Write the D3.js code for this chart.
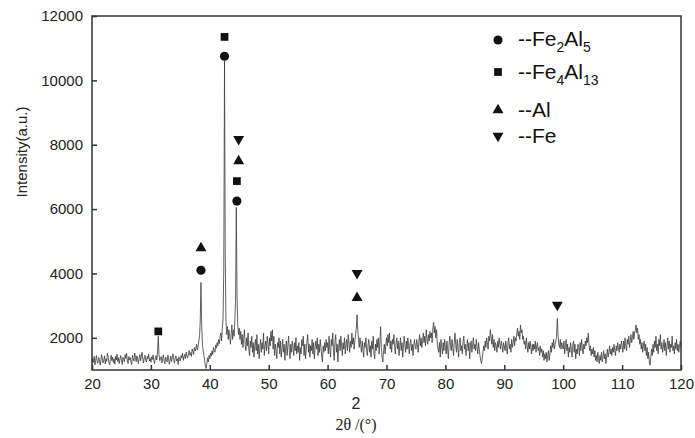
<!DOCTYPE html>
<html><head><meta charset="utf-8">
<script src="https://cdn.jsdelivr.net/npm/d3@7"></script>
<style>body{margin:0;background:#fff}svg{display:block}</style>
</head><body>
<svg id="c" width="695" height="438"></svg>
<script>
// ---- data ----
const angleStart = 20;      // 2θ of first sample
const angleStep = 0.125;    // sampling step (°)
const intensity = [
// 20-25
1180,1350,1240,1420,1160,1300,1450,1270,1210,1390,
1330,1150,1280,1480,1360,1220,1310,1440,1190,1350,
1270,1520,1380,1240,1160,1330,1460,1290,1400,1230,
1350,1180,1420,1310,1490,1260,1380,1200,1340,1450,
// 25-30
1290,1170,1400,1330,1250,1480,1360,1520,1280,1200,
1420,1310,1380,1240,1170,1460,1350,1280,1530,1390,
1260,1440,1320,1200,1370,1480,1290,1410,1550,1330,
1220,1380,1460,1300,1250,1420,1350,1490,1280,1360,
// 30-35
1240,1410,1330,1470,1290,1200,1380,1450,1310,1560,
2050,1480,1290,1360,1420,1220,1350,1470,1280,1190,
1400,1330,1250,1460,1370,1180,1300,1430,1260,1390,
1500,1320,1210,1370,1440,1280,1350,1170,1410,1320,
// 35-40
1280,1450,1370,1520,1300,1410,1490,1350,1560,1430,
1380,1500,1610,1460,1540,1420,1650,1570,1480,1700,
1590,1660,1800,1620,1720,1900,2000,2500,3720,2400,
1800,1600,1450,1300,1100,1050,1200,1380,1250,1450,
// 40-45
1350,1520,1430,1600,1480,1700,1620,1550,1780,1680,
1850,1750,1950,1820,2050,2150,1900,2300,2600,4200,
10600,4500,2500,2100,2350,1950,2250,2050,1800,2100,
2400,1950,2250,2050,2500,3200,6050,3300,2400,2100,
// 45-50
2300,1950,2200,1800,2100,1700,1950,2250,1800,1600,
2000,1750,2150,1650,1450,1900,1700,2050,1550,1850,
1400,1750,1950,1600,2100,1500,1800,1350,1700,1950,
1550,1850,1650,2150,1450,1750,1900,1600,2050,1800,
// 50-55
1500,2000,1750,2200,1900,2250,1650,2050,1450,1800,
1600,1350,1850,1700,2000,1500,1900,1400,1650,1950,
1550,1800,1300,1700,1900,1450,1750,2050,1600,1350,
1800,1550,1900,1700,1450,1850,1600,2000,1500,1750,
// 55-60
1550,1850,1300,1700,1500,1950,1750,2050,1450,1800,
1350,1650,1900,2100,1550,1800,1400,1750,1600,1950,
1500,1850,1350,1700,1900,1650,2000,1450,1800,1550,
1950,1700,1400,1250,1750,1550,1850,1600,1950,1700,
// 60-65
1850,1500,2050,1650,1400,1950,1750,2150,1600,1300,
1900,2100,1550,1800,1250,1700,1950,1600,2050,1750,
1450,1850,1650,2000,1500,1800,1950,1600,2100,1850,
1550,1900,1700,2150,1800,2000,1650,1900,2100,2300,
// 65-70
2720,2250,1950,1700,2000,1800,1550,1900,1650,1400,
1850,1700,2000,1600,1450,1800,1950,1550,1750,1400,
1900,1650,2050,1500,1350,1800,1600,1950,1700,2000,
1500,1850,2350,1700,1400,1250,1600,1800,1500,1750,
// 70-75
2000,1750,2100,1850,2150,1650,1900,1550,1950,1800,
2100,1700,1500,1850,2000,1650,1900,1450,1750,2000,
1600,1850,1400,1700,2050,1800,1550,1900,1650,2000,
1750,1500,1850,1950,1600,1800,1450,1750,1950,1700,
// 75-80
1650,1950,1800,1550,1900,2100,1750,2000,1700,1900,
2150,1850,2050,1750,2250,1950,1800,2100,1900,2200,
2000,2150,1850,2300,2480,2150,2350,2000,2250,1800,
1650,1550,1850,1400,1950,1700,1500,1850,1600,1950,
// 80-85
1700,1500,1900,1650,1350,1800,2050,1750,1600,1950,
1700,1450,1850,2150,1800,1550,1950,1700,1400,1850,
2000,1600,1750,1500,1900,2050,1650,1800,1450,1700,
1950,1600,1850,1350,1750,1900,1550,1800,2000,1650,
// 85-90
1800,1600,1950,1700,1500,1850,1650,1450,1300,1200,
1350,1550,1750,1600,1900,1700,2000,1850,1650,2050,
1900,2250,2050,1800,2100,1700,1950,1600,1850,1750,
1550,1900,1700,2000,1800,1650,1900,1750,1550,1850,
// 90-95
1750,1600,1900,1700,1500,1850,2000,1650,1800,1550,
1950,1700,1850,2050,1750,2000,1900,2150,2300,2050,
2200,1950,2400,2150,2250,1950,2050,1800,1900,1650,
2000,1750,1550,1850,1650,1900,1700,1500,1800,1600,
// 95-100
1800,1650,1900,1550,1750,1850,1600,1700,1450,1750,
1550,1650,1400,1600,1300,1500,1350,1550,1250,1450,
1600,1300,1500,1750,1550,1850,1700,1950,1650,1800,
1900,2050,2600,2100,1800,1700,1950,1650,1850,1750,
// 100-105
1650,1900,1500,1750,1950,1600,1800,1400,1700,1550,
1850,1650,1400,1750,1900,1550,1800,1350,1650,1500,
1800,1700,1450,1850,1600,1950,1700,1500,1800,1650,
1900,1750,2000,1850,2150,1800,1600,1750,1450,1650,
// 105-110
1500,1700,1400,1600,1300,1450,1250,1550,1350,1200,
1450,1300,1550,1250,1400,1600,1350,1500,1200,1450,
1650,1400,1550,1750,1500,1650,1450,1700,1550,1800,
1600,1450,1750,1600,1850,1700,1550,1800,1650,1900,
// 110-115
1750,1550,1900,1650,2000,1750,1600,1950,1800,2050,
1700,1900,2100,1850,2000,2200,1950,2150,2250,2400,
2150,2300,1950,2100,1800,1950,1650,1850,1550,1750,
1900,1600,1800,1450,1700,1350,1550,1250,1150,1400,
// 115-120
1650,1450,1800,1550,1900,1700,2050,1600,1800,1500,
1950,1750,2100,1650,1850,1550,1700,1950,1600,1850,
1450,1750,2000,1650,1900,1550,1800,1700,2050,1600,
1750,1500,1850,1650,1950,1600,1800,1550,1750,1900,
1700
];
const xTicks = [20,30,40,50,60,70,80,90,100,110,120];
const yTicks = [2000,4000,6000,8000,10000,12000];

// phase markers: [2θ, intensity level]
const markFe2Al5 = [[38.5,4100],[42.5,10750],[44.6,6250]];
const markFe4Al13 = [[31.25,2200],[42.5,11350],[44.6,6870]];
const markAl = [[38.5,4790],[44.9,7490],[65.0,3240]];
const markFe = [[44.9,8170],[65.0,4010],[99.0,3020]];

const legendNames = [
  {main:"--Fe", sub1:"2", mid:"Al", sub2:"5"},
  {main:"--Fe", sub1:"4", mid:"Al", sub2:"13"},
  {main:"--Al"},
  {main:"--Fe"}
];

// ---- drawing ----
const svg = d3.select("#c");
const x = d3.scaleLinear().domain([20,120]).range([92,681]);
const y = d3.scaleLinear().domain([1000,12000]).range([370,16]);
const axisColor = "#333";
const tickFont = "Liberation Sans, Arial, sans-serif";

const pts = intensity.map((v,i)=>[angleStart + i*angleStep, v]);

svg.append("path").datum(pts)
  .attr("fill","none").attr("stroke","#3a3a3a").attr("stroke-width",0.8)
  .attr("stroke-linejoin","round")
  .attr("d", d3.line().x(d=>x(d[0])).y(d=>y(d[1])));

// frame
svg.append("rect").attr("x",x(20)).attr("y",y(12000))
  .attr("width",x(120)-x(20)).attr("height",y(1000)-y(12000))
  .attr("fill","none").attr("stroke",axisColor).attr("stroke-width",1.5);

const gx = svg.append("g").attr("transform",`translate(0,${y(1000)})`)
  .call(d3.axisBottom(x).tickValues(xTicks).tickFormat(d3.format("d"))
    .tickSizeInner(-5).tickSizeOuter(0).tickPadding(8));
const gy = svg.append("g").attr("transform",`translate(${x(20)},0)`)
  .call(d3.axisLeft(y).tickValues(yTicks).tickFormat(d3.format("d"))
    .tickSizeInner(-5).tickSizeOuter(0).tickPadding(9));
[gx,gy].forEach(g=>{
  g.select(".domain").remove();
  g.selectAll("line").attr("stroke",axisColor).attr("stroke-width",1.5);
  g.selectAll("text").attr("font-family",tickFont).attr("font-size",15).attr("fill","#222");
});

// axis titles
svg.append("text").attr("transform","translate(27,152) rotate(-90)")
  .attr("text-anchor","middle").attr("font-family",tickFont).attr("font-size",15)
  .attr("fill","#222").text("Intensity(a.u.)");
svg.append("text").attr("x",356).attr("y",409).attr("text-anchor","middle")
  .attr("font-family",tickFont).attr("font-size",16).attr("fill","#222").text("2");
svg.append("text").attr("x",356).attr("y",430).attr("text-anchor","middle")
  .attr("font-family","Liberation Serif, Times New Roman, serif").attr("font-size",16)
  .attr("fill","#222").text("2θ /(°)");

// markers
const symCircle = d3.symbol().type(d3.symbolCircle).size(66);
const symSquare = d3.symbol().type(d3.symbolSquare).size(60);
const symTri = d3.symbol().type(d3.symbolTriangle).size(52);
function drawMarks(data, sym, rot){
  svg.append("g").selectAll("path").data(data).join("path")
    .attr("d", sym())
    .attr("transform", d=>`translate(${x(d[0])},${y(d[1])}) rotate(${rot})`)
    .attr("fill","#111");
}
drawMarks(markFe2Al5, symCircle, 0);
drawMarks(markFe4Al13, symSquare, 0);
drawMarks(markAl, symTri, 0);
drawMarks(markFe, symTri, 180);

// legend
const legSyms = [[symCircle,0],[symSquare,0],[symTri,0],[symTri,180]];
const legSymY = [40,72,110,136];
const legBase = [46,79,117,143];
legendNames.forEach((n,i)=>{
  svg.append("path").attr("d", legSyms[i][0]())
    .attr("transform",`translate(498,${legSymY[i]}) rotate(${legSyms[i][1]})`)
    .attr("fill","#111");
  const t = svg.append("text").attr("x",518).attr("y",legBase[i])
    .attr("font-family",tickFont).attr("font-size",21).attr("fill","#111");
  t.append("tspan").text(n.main);
  if(n.sub1){
    t.append("tspan").attr("font-size",14).attr("dy",6).text(n.sub1);
    t.append("tspan").attr("dy",-6).text(n.mid);
    t.append("tspan").attr("font-size",14).attr("dy",6).text(n.sub2);
  }
});
</script>
</body></html>
